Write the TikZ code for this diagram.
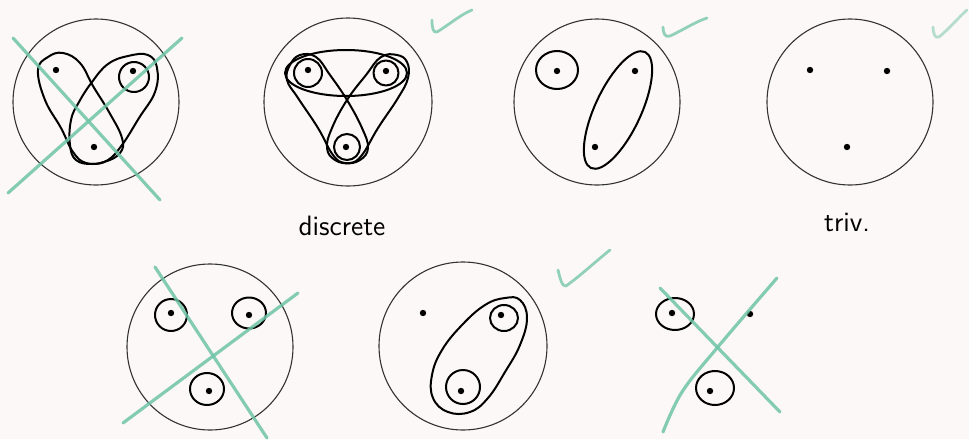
\documentclass[tikz,border=0pt]{standalone}
\definecolor{bg}{RGB}{253,248,248}
\definecolor{mint}{RGB}{110,196,168}
\begin{document}
\begin{tikzpicture}[x=0.5pt,y=-0.5pt,
  big/.style={draw=black!80, line width=0.55pt},
  pen/.style={draw=black, line width=1pt, line join=round},
  cross/.style={draw=mint, line width=1.6pt, opacity=0.85, line cap=round},
  tick/.style={draw=mint, line width=1.4pt, opacity=0.75, line cap=round, line join=round},
  lbl/.style={font=\sffamily\fontsize{14}{14}\selectfont, inner sep=0pt}]
\fill[bg] (0,0) rectangle (969,439);
\useasboundingbox (0,0) rectangle (969,439);

% ---------- circle 1 ----------
\draw[big] (96,102) circle[radius=83];
\draw[pen] plot[smooth cycle, tension=0.7] coordinates {(38,70) (48,57) (63,53) (80,63) (93,86) (109,112) (122,138) (120,153) (104,162) (86,163) (73,152) (61,128) (45,100)};
\draw[pen] plot[smooth cycle, tension=0.7] coordinates {(108,64) (128,56) (148,55) (157,68) (155,92) (139,118) (122,145) (108,160) (92,164) (76,160) (70,145) (71,120) (79,102) (92,82)};
\draw[pen] (134,77) circle[radius=15];
\fill (56,70) circle[radius=3.2];
\fill (133,71) circle[radius=3.2];
\fill (94,147) circle[radius=3.2];
\draw[cross] (13,38) -- (160,200);
\draw[cross] (182,38) -- (8,193);

% ---------- circle 2 ----------
\draw[big] (348,102) circle[radius=84];
\draw[pen] (346,73) ellipse[x radius=61, y radius=23];
\draw[pen] plot[smooth cycle, tension=0.7] coordinates {(290,65) (300,55) (316,57) (330,75) (347,100) (362,128) (368,148) (360,160) (345,163) (333,155) (318,128) (298,98) (287,80)};
\draw[pen] plot[smooth cycle, tension=0.7] coordinates {(407,62) (397,55) (381,57) (366,75) (347,100) (332,128) (327,148) (335,160) (350,163) (362,155) (378,128) (398,98) (408,78)};
\draw[pen] (308,73) circle[radius=14];
\draw[pen] (386,73) circle[radius=12.5];
\draw[pen] (347,147) circle[radius=13];
\fill (308,70) circle[radius=3.2];
\fill (386,71) circle[radius=3.2];
\fill (346,147) circle[radius=3.2];
\draw[tick] (432,20) .. controls (432,28) and (433,33) .. (437,32) .. controls (450,24) and (460,15) .. (472,10);
\node[lbl] (discrete) at (342,226) {discrete};

% ---------- circle 3 ----------
\draw[big] (597,102) circle[radius=83];
\draw[pen] (557,70) ellipse[x radius=21, y radius=19];
\draw[pen, rotate around={65:(618,110)}] (618,110) ellipse[x radius=64, y radius=23];
\fill (557,71) circle[radius=3.2];
\fill (635,71) circle[radius=3.2];
\fill (595,147) circle[radius=3.2];
\draw[tick] (663,27) .. controls (663,33) and (665,38) .. (670,36) .. controls (685,29) and (695,22) .. (707,18);

% ---------- circle 4 ----------
\draw[big] (850,102) circle[radius=83];
\fill (810,70) circle[radius=3.2];
\fill (887,71) circle[radius=3.2];
\fill (847,147) circle[radius=3.2];
\draw[tick, opacity=0.5] (933,27) .. controls (933,33) and (935,39) .. (939,37) .. controls (950,28) and (958,18) .. (967,10);
\node[lbl] (triv) at (847,222) {triv.};

% ---------- circle 5 ----------
\draw[big] (210,347) circle[radius=83];
\draw[pen] (171,315) circle[radius=16];
\draw[pen] (249,313) ellipse[x radius=17, y radius=15.5];
\draw[pen] (207,389) ellipse[x radius=17, y radius=16];
\fill (171,313) circle[radius=3.2];
\fill (249,315) circle[radius=3.2];
\fill (209,391) circle[radius=3.2];
\draw[cross] (155,267) -- (267,438);
\draw[cross] (298,293) -- (123,423);

% ---------- circle 6 ----------
\draw[big] (463,346) circle[radius=84];
\draw[pen] plot[smooth cycle, tension=0.7] coordinates {(505,298) (520,300) (527,318) (520,345) (505,372) (488,398) (470,412) (448,412) (433,398) (432,375) (442,350) (462,325) (485,305)};
\draw[pen] (504,318) ellipse[x radius=14, y radius=13];
\draw[pen] (463,387) circle[radius=17];
\fill (423,313) circle[radius=3.2];
\fill (501,315) circle[radius=3.2];
\fill (461,391) circle[radius=3.2];
\draw[tick] (558,270) .. controls (560,278) and (562,287) .. (566,286) .. controls (580,276) and (595,262) .. (610,250);

% ---------- group 7 ----------
\draw[pen] (675,314) ellipse[x radius=19, y radius=16];
\draw[pen] (715,388) ellipse[x radius=19, y radius=17];
\fill (672,313) circle[radius=3.2];
\fill (750,314) circle[radius=3.2];
\fill (710,391) circle[radius=3.2];
\draw[cross] (660,288) -- (780,412);
\draw[cross] plot[smooth, tension=0.6] coordinates {(777,278) (717,348) (682,392) (663,432)};
\end{tikzpicture}
\end{document}
